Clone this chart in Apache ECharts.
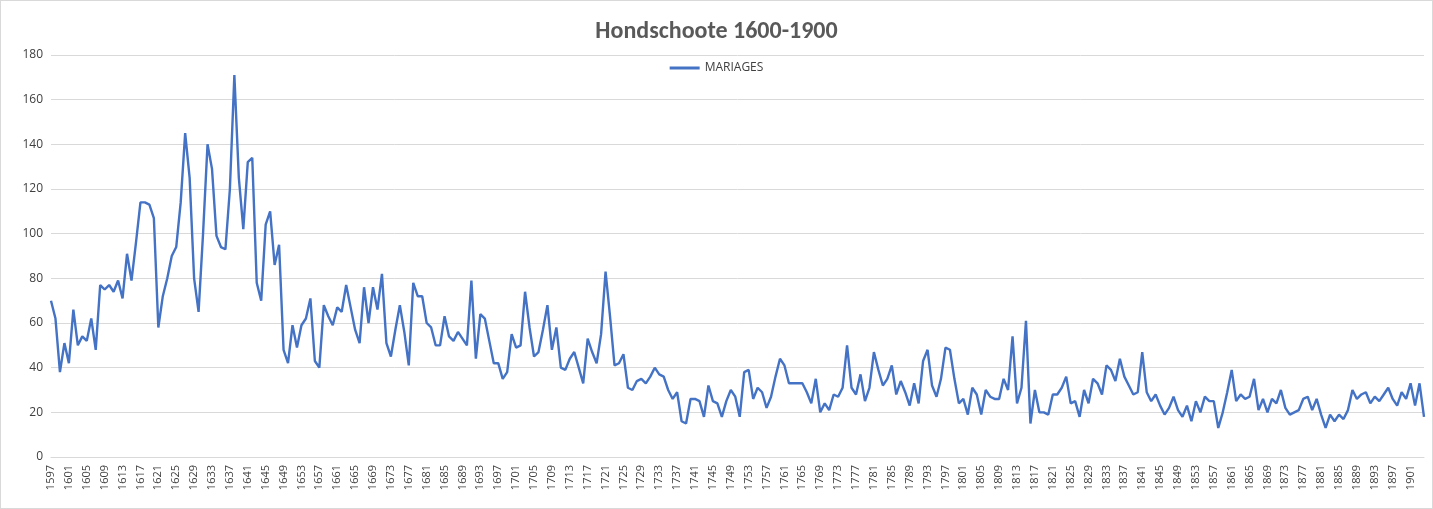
<!DOCTYPE html>
<html><head><meta charset="utf-8">
<script src="https://cdn.jsdelivr.net/npm/echarts@6/dist/echarts.min.js"></script>
<style>html,body{margin:0;padding:0;background:#fff}#c{width:1431px;height:507px;border:1px solid #d9d9d9}</style>
</head><body><div id="c"></div>
<script>
const startYear = 1597;
const mariages = [70,62,38,51,42,66,50,54,52,62,48,77,75,77,74,79,71,91,79,96,114,114,113,107,58,72,80,90,94,114,145,125,80,65,100,140,129,99,94,93,120,171,125,102,132,134,78,70,104,110,86,95,48,42,59,49,59,62,71,43,40,68,63,59,67,65,77,67,57,51,76,60,76,66,82,51,45,57,68,56,41,78,72,72,60,58,50,50,63,54,52,56,53,50,79,44,64,62,52,42,42,35,38,55,49,50,74,58,45,47,57,68,48,58,40,39,44,47,40,33,53,47,42,55,83,63,41,42,46,31,30,34,35,33,36,40,37,36,30,26,29,16,15,26,26,25,18,32,25,24,18,25,30,27,18,38,39,26,31,29,22,27,36,44,41,33,33,33,33,29,24,35,20,24,21,28,27,31,50,31,28,37,25,31,47,39,32,35,41,28,34,29,23,33,24,43,48,32,27,35,49,48,35,24,26,19,31,28,19,30,27,26,26,35,30,54,24,31,61,15,30,20,20,19,28,28,31,36,24,25,18,30,24,35,33,28,41,39,34,44,36,32,28,29,47,29,25,28,23,19,22,27,21,18,23,16,25,20,27,25,25,13,20,29,39,25,28,26,27,35,21,26,20,26,24,30,22,19,20,21,26,27,21,26,19,13,19,16,19,17,21,30,26,28,29,24,27,25,28,31,26,23,29,26,33,23,33,18];
const years = mariages.map((_, i) => String(startYear + i));
const chart = echarts.init(document.getElementById('c'));
chart.setOption({
  animation:false,
  title:{text:'Hondschoote 1600-1900',left:'center',top:14,textStyle:{fontFamily:'Carlito, Calibri, "Open Sans", sans-serif',fontSize:24,fontWeight:'bold',color:'#595959'}},
  legend:{top:56,left:'center',itemWidth:30,itemHeight:3,icon:'rect',textStyle:{fontFamily:'"Open Sans", sans-serif',fontSize:12,color:'#404040'},data:['MARIAGES']},
  grid:{left:50,right:8,top:54,bottom:51,containLabel:false},
  xAxis:{type:'category',data:years,boundaryGap:false,axisTick:{show:false},axisLine:{lineStyle:{color:'#d9d9d9'}},
    axisLabel:{interval:3,rotate:90,color:'#404040',fontSize:11,fontFamily:'"Open Sans", sans-serif'}},
  yAxis:{type:'value',min:0,max:180,interval:20,axisLine:{show:false},axisTick:{show:false},
    splitLine:{lineStyle:{color:'#d9d9d9'}},axisLabel:{color:'#404040',fontSize:12,fontFamily:'"Open Sans", sans-serif'}},
  series:[{name:'MARIAGES',type:'line',data:mariages,symbol:'none',lineStyle:{color:'#4472c4',width:2.4},itemStyle:{color:'#4472c4'}}]
});
</script></body></html>
